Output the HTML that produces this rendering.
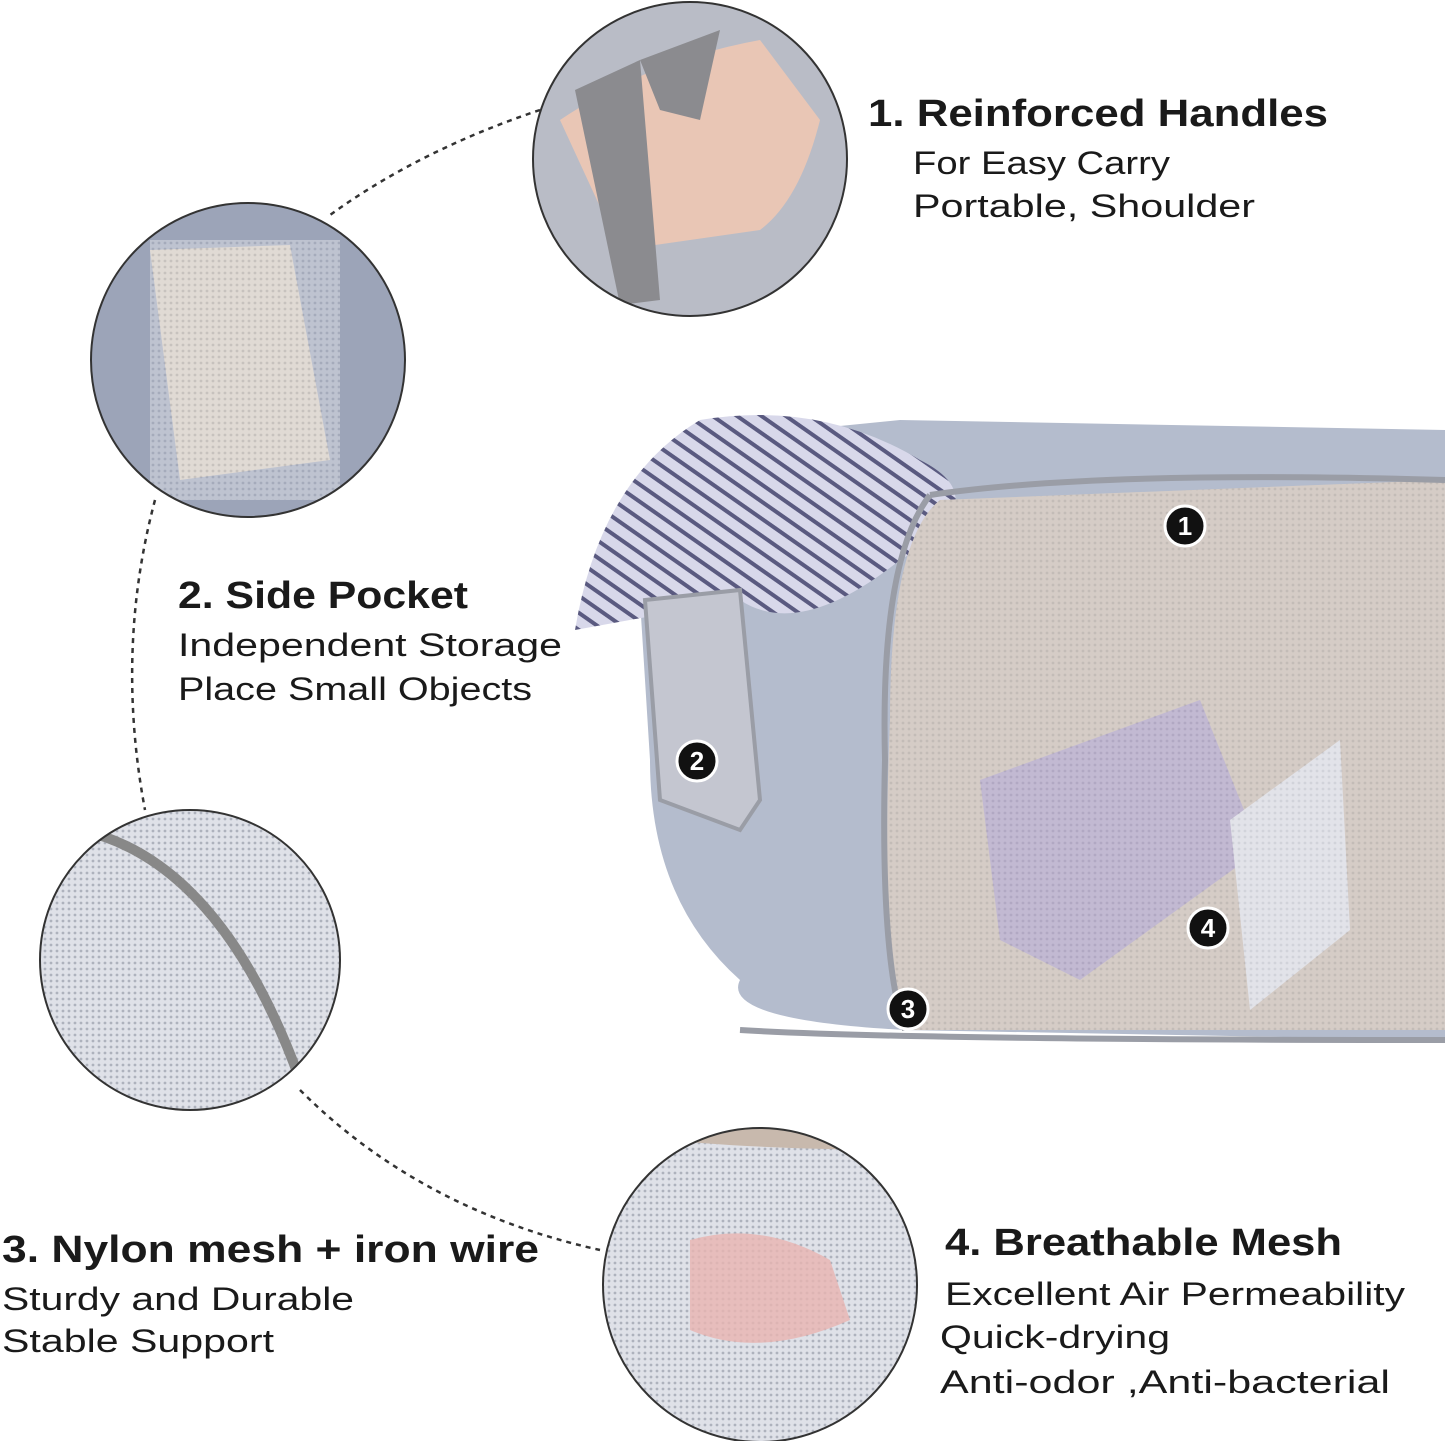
<!DOCTYPE html>
<html><head><meta charset="utf-8"><style>
html,body{margin:0;padding:0;background:#fff;}
svg{display:block}
text{font-family:"Liberation Sans",sans-serif;fill:#1a1a1a}
.t{font-weight:bold;font-size:38px}
.b{font-size:32px}
</style></head><body>
<svg width="1445" height="1441" viewBox="0 0 1445 1441" xmlns="http://www.w3.org/2000/svg">
<defs>
<pattern id="mesh" width="6" height="6" patternUnits="userSpaceOnUse"><rect width="6" height="6" fill="#dfe1e8"/><circle cx="3" cy="3" r="1.4" fill="#aeb2bd"/></pattern>
<pattern id="stripe" width="14" height="14" patternUnits="userSpaceOnUse" patternTransform="rotate(35)"><rect width="14" height="14" fill="#d8d8ea"/><rect width="14" height="4" fill="#5a5a80"/></pattern>
<clipPath id="c1"><circle cx="690" cy="159" r="157"/></clipPath>
<clipPath id="c2"><circle cx="248" cy="360" r="157"/></clipPath>
<clipPath id="c3"><circle cx="190" cy="960" r="150"/></clipPath>
<clipPath id="c4"><circle cx="760" cy="1285" r="157"/></clipPath>
</defs>
<g fill="none" stroke="#333" stroke-width="2.5" stroke-dasharray="5,5">
<path d="M540 110 Q420 150 330 215"/>
<path d="M155 500 Q115 650 145 810"/>
<path d="M300 1090 Q420 1210 600 1250"/>
</g>
<g clip-path="url(#c1)">
<rect x="530" y="0" width="320" height="320" fill="#b9bcc6"/>
<path d="M560 120 Q650 60 760 40 L820 120 Q800 200 760 230 L620 250 Z" fill="#e9c6b5"/>
<path d="M575 90 L640 60 L660 300 L620 305 Z" fill="#8b8b8f"/>
<path d="M640 60 L720 30 L700 120 L660 110Z" fill="#8b8b8f"/>
</g>
<circle cx="690" cy="159" r="157" fill="none" stroke="#333" stroke-width="2"/>
<g clip-path="url(#c2)">
<rect x="90" y="200" width="320" height="320" fill="#9ca4b8"/>
<path d="M150 250 L290 245 L330 460 L180 480 Z" fill="#e0d2bf"/>
<rect x="150" y="240" width="190" height="260" fill="url(#mesh)" opacity="0.5"/>
</g>
<circle cx="248" cy="360" r="157" fill="none" stroke="#333" stroke-width="2"/>
<g clip-path="url(#c3)">
<rect x="40" y="810" width="300" height="300" fill="url(#mesh)"/>
<path d="M80 830 Q220 860 300 1080" fill="none" stroke="#888" stroke-width="10"/>
</g>
<circle cx="190" cy="960" r="150" fill="none" stroke="#333" stroke-width="2"/>
<g clip-path="url(#c4)">
<rect x="600" y="1125" width="320" height="320" fill="url(#mesh)"/>
<path d="M600 1130 Q700 1150 920 1150 L920 1125 L600 1125Z" fill="#c8b9ad"/>
<path d="M690 1240 Q760 1220 830 1260 L850 1320 Q760 1360 690 1330 Z" fill="#e8b4b0" opacity="0.8"/>
</g>
<circle cx="760" cy="1285" r="157" fill="none" stroke="#333" stroke-width="2"/>
<path d="M640 600 Q620 480 700 440 L900 420 L1445 430 L1445 1040 L905 1030 Q720 1020 740 980 Q650 900 650 760 Z" fill="#b4bccd"/>
<path d="M575 630 Q600 480 700 420 Q820 400 920 460 Q1000 500 900 560 Q800 640 740 600 Z" fill="url(#stripe)"/>
<path d="M940 500 Q890 540 890 720 Q880 960 905 1030 L1445 1030 L1445 480 Z" fill="#cfc1b4"/>
<path d="M980 780 L1200 700 L1260 850 L1080 980 L1000 940 Z" fill="#b2a3c6"/>
<path d="M1230 820 L1340 740 L1350 930 L1250 1010 Z" fill="#e4e4ea"/>
<path d="M940 500 Q890 540 890 720 Q880 960 905 1030 L1445 1030 L1445 480 Z" fill="url(#mesh)" opacity="0.35"/>
<path d="M930 495 Q880 560 885 760 Q880 960 905 1030" fill="none" stroke="#9a9da6" stroke-width="6"/>
<path d="M930 495 Q1100 470 1445 480" fill="none" stroke="#9a9da6" stroke-width="6"/>
<path d="M740 1030 Q900 1040 1445 1040" fill="none" stroke="#9a9da6" stroke-width="6"/>
<path d="M645 600 L740 590 L760 800 L740 830 L660 800 Z" fill="#c4c6d0" stroke="#9a9da6" stroke-width="4"/>
<g font-weight="bold" font-size="26" text-anchor="middle">
<circle cx="1185" cy="526" r="20" fill="#111" stroke="#fff" stroke-width="3"/><text x="1185" y="535" style="fill:#fff">1</text>
<circle cx="697" cy="761" r="20" fill="#111" stroke="#fff" stroke-width="3"/><text x="697" y="770" style="fill:#fff">2</text>
<circle cx="908" cy="1009" r="20" fill="#111" stroke="#fff" stroke-width="3"/><text x="908" y="1018" style="fill:#fff">3</text>
<circle cx="1208" cy="928" r="20" fill="#111" stroke="#fff" stroke-width="3"/><text x="1208" y="937" style="fill:#fff">4</text>
</g>
<text class="t" x="868" y="126" textLength="460" lengthAdjust="spacingAndGlyphs">1. Reinforced Handles</text>
<text class="b" x="913" y="174" textLength="257" lengthAdjust="spacingAndGlyphs">For Easy Carry</text>
<text class="b" x="913" y="217" textLength="342" lengthAdjust="spacingAndGlyphs">Portable, Shoulder</text>
<text class="t" x="178" y="608" textLength="290" lengthAdjust="spacingAndGlyphs">2. Side Pocket</text>
<text class="b" x="178" y="656" textLength="384" lengthAdjust="spacingAndGlyphs">Independent Storage</text>
<text class="b" x="178" y="700" textLength="354" lengthAdjust="spacingAndGlyphs">Place Small Objects</text>
<text class="t" x="2" y="1262" textLength="537" lengthAdjust="spacingAndGlyphs">3. Nylon mesh + iron wire</text>
<text class="b" x="2" y="1310" textLength="352" lengthAdjust="spacingAndGlyphs">Sturdy and Durable</text>
<text class="b" x="2" y="1352" textLength="272" lengthAdjust="spacingAndGlyphs">Stable Support</text>
<text class="t" x="945" y="1255" textLength="397" lengthAdjust="spacingAndGlyphs">4. Breathable Mesh</text>
<text class="b" x="945" y="1305" textLength="460" lengthAdjust="spacingAndGlyphs">Excellent Air Permeability</text>
<text class="b" x="940" y="1348" textLength="230" lengthAdjust="spacingAndGlyphs">Quick-drying</text>
<text class="b" x="940" y="1393" textLength="450" lengthAdjust="spacingAndGlyphs">Anti-odor ,Anti-bacterial</text>
</svg>
</body></html>
